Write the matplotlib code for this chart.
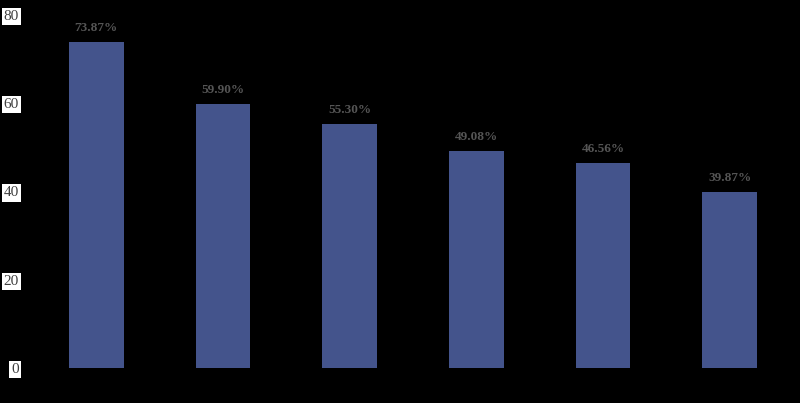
import matplotlib.pyplot as plt

categories = ["A", "B", "C", "D", "E", "F"]
values = [73.87, 59.90, 55.30, 49.08, 46.56, 39.87]
labels = ["73.87%", "59.90%", "55.30%", "49.08%", "46.56%", "39.87%"]
yticks = [0, 20, 40, 60, 80]

fig = plt.figure(figsize=(8, 4.03), dpi=100, facecolor="black")
ax = fig.add_axes([33 / 800, 35 / 403, 760 / 800, 353 / 403])
ax.set_facecolor("black")

x = list(range(len(values)))
ax.bar(x, values, width=0.43, color="#44548c")

for xi, v, lab in zip(x, values, labels):
    ax.text(xi, v + 1.8, lab, ha="center", va="bottom", fontsize=9.5,
            fontweight="bold", family="Liberation Serif", color="#555555")

ax.set_xlim(-0.5, len(values) - 0.5)
ax.set_ylim(0, 80)
ax.set_xticks([])
ax.set_yticks(yticks)
ax.set_yticklabels([str(t) for t in yticks], family="Liberation Serif",
                   fontsize=11, color="#404040")
for t in ax.get_yticklabels():
    t.set_bbox(dict(facecolor="white", edgecolor="none", pad=1.5))
ax.tick_params(axis="y", length=0, pad=10)
for s in ax.spines.values():
    s.set_visible(False)

fig.savefig("out.png", dpi=100, facecolor="black")
